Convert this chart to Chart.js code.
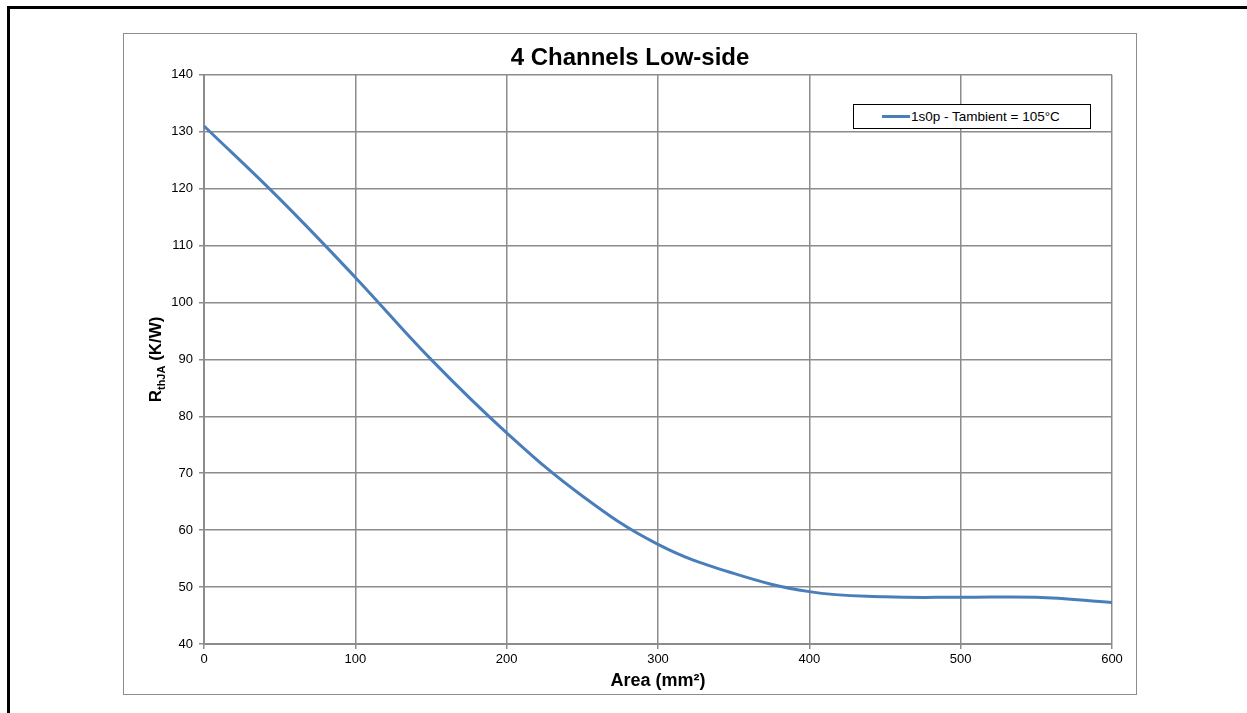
<!DOCTYPE html>
<html>
<head>
<meta charset="utf-8">
<script src="https://cdn.jsdelivr.net/npm/chart.js@4.4.0/dist/chart.umd.min.js"></script>
<style>
  body { margin: 0; background: #fff; font-family: "Liberation Sans", Arial, sans-serif; }
  #frame { position: absolute; left: 7px; top: 6px; width: 1400px; height: 900px;
           border-top: 3px solid #000; border-left: 3px solid #000; }
  #box { position: absolute; left: 123px; top: 33px; width: 1012px; height: 660px;
         border: 1px solid #8c8c8c; background: #fff; }
  #legend { position: absolute; left: 853px; top: 104px; width: 236px; height: 23px;
            border: 1px solid #000; background: #fff; font-size: 13.5px; color: #000;
            display: flex; align-items: center; }
  #legend .swatch { display: inline-block; width: 28px; height: 3px; margin-left: 28px; margin-right: 1px; }
</style>
</head>
<body>
<div id="frame"></div>
<div id="box"><canvas id="myChart" width="1012" height="660"></canvas></div>
<div id="legend"></div>
<script>
    // valeurs
    var areas = [0, 50, 100, 150, 200, 250, 300, 350, 400, 450, 500, 550, 600];
    var rthja = [131, 118.2, 104.4, 90.0, 77.1, 66.0, 57.5, 52.4, 49.2, 48.3, 48.2, 48.2, 47.3];
    var xTicks = [0, 100, 200, 300, 400, 500, 600];
    var yTicks = [40, 50, 60, 70, 80, 90, 100, 110, 120, 130, 140];
    var serieLabel = '1s0p - Tambient = 105°C';
    var titre = '4 Channels Low-side';

    var gridColor = '#8c8c8c';
    var lineColor = '#4a7ebb';
    var fontFamily = '"Liberation Sans", Arial, sans-serif';

    var points = [];
    for (let i = 0; i < areas.length; ++i) {
        points.push({ x: areas[i], y: rthja[i] });
    }

    // titre de l'axe Y avec indice (thJA)
    const yTitlePlugin = {
        id: 'yTitle',
        afterDraw(chart) {
            const ctx = chart.ctx;
            const area = chart.chartArea;
            ctx.save();
            ctx.translate(32, (area.top + area.bottom) / 2);
            ctx.rotate(-Math.PI / 2);
            ctx.fillStyle = '#000';
            ctx.textBaseline = 'middle';
            var big = 'bold 17px ' + fontFamily;
            var small = 'bold 11px ' + fontFamily;
            ctx.font = big;
            var w1 = ctx.measureText('R').width;
            var w3 = ctx.measureText(' (K/W)').width;
            ctx.font = small;
            var w2 = ctx.measureText('thJA').width;
            var x = -(w1 + w2 + w3) / 2;
            ctx.font = big;
            ctx.fillText('R', x, 0);
            ctx.font = small;
            ctx.fillText('thJA', x + w1, 6);
            ctx.font = big;
            ctx.fillText(' (K/W)', x + w1 + w2, 0);
            ctx.restore();
        }
    };

    const ctx = document.getElementById('myChart').getContext('2d');
    const myChart = new Chart(ctx, {
        type: 'line',
        data: {
            datasets: [{
                label: serieLabel,
                data: points,
                borderColor: lineColor,
                borderWidth: 3,
                fill: false,
                pointRadius: 0,
                tension: 0.4
            }]
        },
        options: {
            responsive: false,
            animation: false,
            layout: { padding: 0 },
            scales: {
                x: {
                    type: 'linear',
                    min: 0,
                    max: 600,
                    afterBuildTicks: function (scale) {
                        scale.ticks = xTicks.map(v => ({ value: v }));
                    },
                    afterFit: function (scale) {
                        scale.height = 50;
                        scale.paddingRight = 24;
                    },
                    grid: { color: gridColor, lineWidth: 1.5, tickLength: 5, tickColor: gridColor },
                    border: { color: gridColor, width: 2 },
                    ticks: { color: '#000', padding: 3, maxRotation: 0,
                             font: { family: fontFamily, size: 13 } },
                    title: { display: true, text: 'Area (mm²)', color: '#000', padding: { top: 0, bottom: 2 },
                             font: { family: fontFamily, size: 18, weight: 'bold' } }
                },
                y: {
                    min: 40,
                    max: 140,
                    afterBuildTicks: function (scale) {
                        scale.ticks = yTicks.map(v => ({ value: v }));
                    },
                    afterFit: function (scale) { scale.width = 80; },
                    grid: { color: gridColor, lineWidth: 1.5, tickLength: 5, tickColor: gridColor },
                    border: { color: gridColor, width: 2 },
                    ticks: { color: '#000', padding: 6,
                             font: { family: fontFamily, size: 13 } }
                }
            },
            plugins: {
                legend: { display: false },
                tooltip: { enabled: false },
                title: {
                    display: true,
                    text: titre,
                    color: '#000',
                    padding: { top: 10, bottom: 2 },
                    font: { family: fontFamily, size: 24, weight: 'bold' }
                }
            }
        },
        plugins: [yTitlePlugin]
    });

    // légende en HTML, construite depuis le dataset
    var legend = document.getElementById('legend');
    myChart.data.datasets.forEach((dataset) => {
        let sw = document.createElement('span');
        sw.className = 'swatch';
        sw.style.background = dataset.borderColor;
        let txt = document.createElement('span');
        txt.innerText = dataset.label;
        legend.appendChild(sw);
        legend.appendChild(txt);
    });
</script>
</body>
</html>
